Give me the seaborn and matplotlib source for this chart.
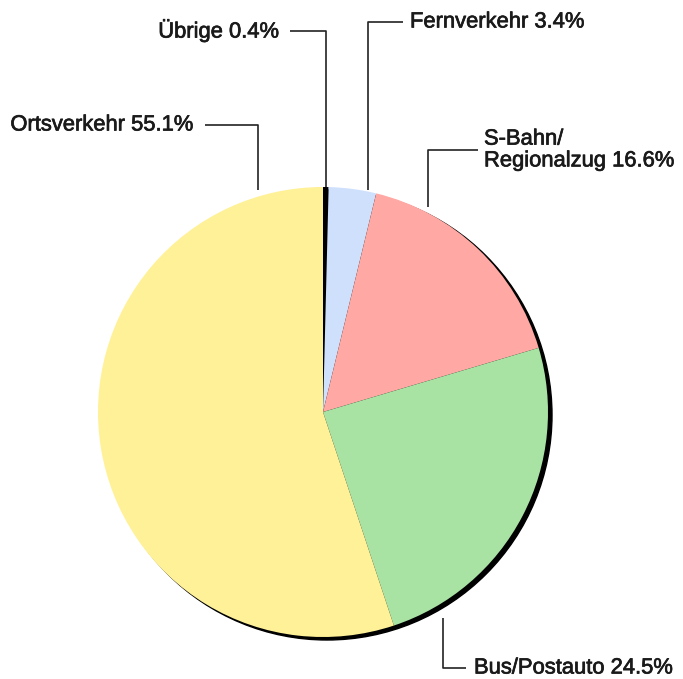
import matplotlib
matplotlib.use("Agg")
import matplotlib.pyplot as plt
import matplotlib.patheffects as pe
from matplotlib.patches import Circle
import seaborn as sns

# Anteile nach Verkehrsart (Prozent), im Uhrzeigersinn ab 12 Uhr
kategorien = ["Übrige", "Fernverkehr", "S-Bahn/\nRegionalzug", "Bus/Postauto", "Ortsverkehr"]
anteile = [0.4, 3.4, 16.6, 24.5, 55.1]
farben = ["#000000", "#cfe0fc", "#ffa8a4", "#a8e3a4", "#fff197"]

sns.set_theme(style="white")
plt.rcParams["font.family"] = ["Liberation Sans", "DejaVu Sans"]

W, H = 683, 679
fig = plt.figure(figsize=(W / 100, H / 100), dpi=100)
ax = fig.add_axes([0, 0, 1, 1])

# Pixel-Layout (y von oben gemessen)
cx, cy, r = 323, 412, 225

# Schatten unten rechts
ax.add_patch(Circle((cx + 4, H - cy - 3), r, color="black", zorder=1))
ax.pie(anteile, colors=farben, startangle=90, counterclock=False,
       center=(cx, H - cy), radius=r, frame=True,
       wedgeprops=dict(linewidth=0, zorder=2))
ax.set_xlim(0, W)
ax.set_ylim(0, H)
ax.set_aspect("equal")
ax.axis("off")

# Beschriftungen mit Führungslinien: (Text-x, Text-y, Ausrichtung, Linienpunkte)
beschriftung = [
    (279, 31, "right", [(290, 31), (326, 31), (326, 187)]),
    (410, 22, "left", [(403, 22), (368, 22), (368, 190)]),
    (484, 150, "left", [(478, 150), (428, 150), (428, 207)]),
    (474, 668, "left", [(466, 668), (443, 668), (443, 618)]),
    (193, 125, "right", [(205, 125), (258, 125), (258, 190)]),
]

dick = [pe.withStroke(linewidth=0.5, foreground="#1a1a1a")]
for name, wert, (tx, ty, ha, pts) in zip(kategorien, anteile, beschriftung):
    xs = [p[0] for p in pts]
    ys = [H - p[1] for p in pts]
    ax.plot(xs, ys, color="#222222", lw=1.2, zorder=3, solid_capstyle="butt")
    ax.text(tx, H - ty, f"{name} {wert}%", ha=ha, va="center",
            fontsize=15.8, color="#1a1a1a", linespacing=1.05,
            path_effects=dick)

fig.savefig("out.png", dpi=100)
